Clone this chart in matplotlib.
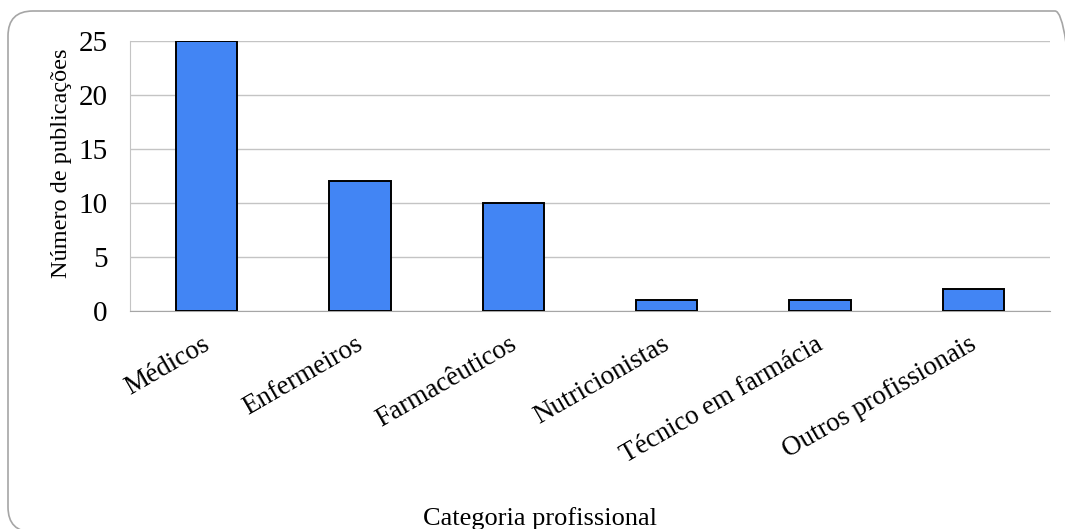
import matplotlib
matplotlib.use("Agg")
import matplotlib.pyplot as plt
from matplotlib.patches import FancyBboxPatch
from matplotlib.transforms import ScaledTranslation

categorias = ["Médicos", "Enfermeiros", "Farmacêuticos", "Nutricionistas",
              "Técnico em farmácia", "Outros profissionais"]
publicacoes = [25, 12, 10, 1, 1, 2]
yticks = [0, 5, 10, 15, 20, 25]

plt.rcParams["font.family"] = ["Liberation Serif", "DejaVu Serif"]
FS = 19.5

W, H = 1065, 529
DPI = 100
fig = plt.figure(figsize=(W / DPI, H / DPI), dpi=DPI)

# rounded frame around the chart, in pixel coordinates
frame = FancyBboxPatch((8, -3), 1080 - 8, 518 + 3,
                       boxstyle="round,pad=0,rounding_size=25",
                       transform=None, facecolor="none",
                       edgecolor="#a6a6a6", linewidth=1.2, zorder=-1)
fig.patches.append(frame)

ax = fig.add_axes([130 / W, 1 - 311 / H, (1050 - 130) / W, (311 - 41) / H])
ax.set_facecolor("none")

x = range(len(categorias))
ax.bar(x, publicacoes, width=0.4, color="#4285f4", edgecolor="black",
       linewidth=1.4, zorder=3)

ax.set_xlim(-0.5, len(categorias) - 0.5)
ax.set_ylim(0, 25)
ax.set_yticks(yticks)
ax.yaxis.grid(True, color="#c4c4c4", linewidth=1.0, zorder=0)
ax.tick_params(axis="both", length=0, colors="black")
ax.tick_params(axis="y", pad=16, labelsize=21)

ax.set_xticks(list(x))
ax.set_xticklabels(categorias, rotation=30, ha="right",
                   rotation_mode="anchor", fontsize=FS)
ax.tick_params(axis="x", pad=15)
shift = ScaledTranslation(-5 / DPI, 0, fig.dpi_scale_trans)
for lbl in ax.get_xticklabels():
    lbl.set_transform(lbl.get_transform() + shift)

for side in ["top", "right"]:
    ax.spines[side].set_visible(False)
ax.spines["left"].set_color("#c4c4c4")
ax.spines["bottom"].set_color("#a6a6a6")

ax.set_ylabel("Número de publicações", fontsize=17.5)
ax.yaxis.set_label_coords(-0.063, 0.548)
fig.text(540 / W, 1 - 525 / H, "Categoria profissional", ha="center",
         va="baseline", fontsize=19)

fig.savefig("out.png", dpi=DPI)
